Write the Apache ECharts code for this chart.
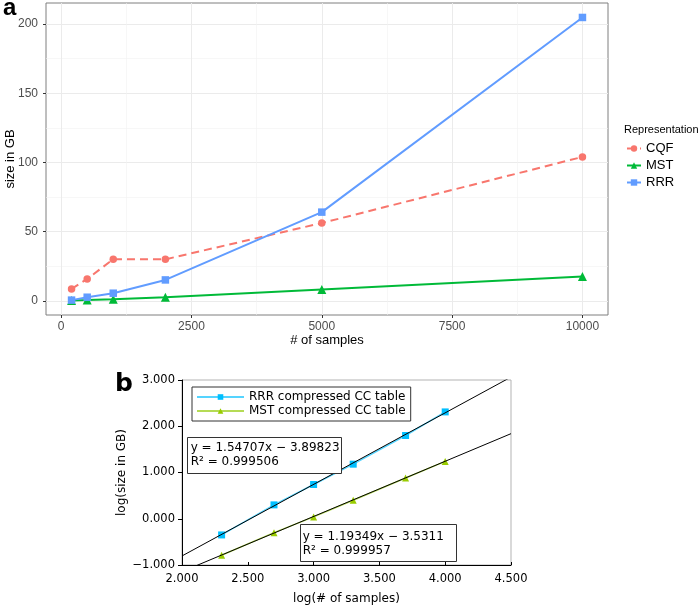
<!DOCTYPE html>
<html><head><meta charset="utf-8">
<script src="https://cdn.jsdelivr.net/npm/echarts@6/dist/echarts.min.js"></script>
<style>html,body{margin:0;padding:0;background:#fff}#c{width:700px;height:606px}</style>
</head><body><div id="c"></div>
<script>
// ---- panel a data ----
const samples = [200, 500, 1000, 2000, 5000, 10000];
const cqfGB = [8.6, 15.8, 30.1, 30.0, 56.2, 104.0];
const mstGB = [0.3, 0.6, 1.2, 2.6, 8.1, 17.5];
const rrrGB = [0.5, 2.6, 5.5, 15.1, 64.1, 204.8];
const topXTicks = [0, 2500, 5000, 7500, 10000];
const topXMinor = [1250, 3750, 6250, 8750];
const topYTicks = [0, 50, 100, 150, 200];
const topYMinor = [25, 75, 125, 175];
const topSeriesNames = ['CQF', 'MST', 'RRR'];

// ---- panel b data ----
const logSamples = [2.301, 2.699, 3.000, 3.301, 3.699, 4.000];
const rrrLog = [-0.35, 0.30, 0.74, 1.18, 1.80, 2.31];
const mstLog = [-0.79, -0.30, 0.04, 0.40, 0.88, 1.24];
const rrrFit = [1.54707, -3.89823];   // slope, intercept
const mstFit = [1.19349, -3.5311];
const rrrFitText = ['y = 1.54707x \u2212 3.89823', 'R\u00b2 = 0.999506'];
const mstFitText = ['y = 1.19349x \u2212 3.5311', 'R\u00b2 = 0.999957'];
const fitRangeX = [2.0, 4.5];
const botSeriesNames = ['RRR compressed CC table', 'MST compressed CC table'];

const pairs = (xs, ys) => xs.map((x, i) => [x, ys[i]]);
const fitLine = f => fitRangeX.map(x => [x, f[0] * x + f[1]]);
const fmt3 = v => v.toFixed(3).replace('-', '\u2212');
const plain = v => String(v);

const SANS = 'Liberation Sans';
const DV = 'DejaVu Sans';

const chart = echarts.init(document.getElementById('c'), null, {renderer: 'canvas'});

const topXBase = {
  type: 'value', gridIndex: 0, min: -290, max: 10490,
  axisLine: {show: false, onZero: false}, nameMoveOverlap: false
};
const topYBase = {
  type: 'value', gridIndex: 0, min: -10.25, max: 215.25,
  axisLine: {show: false, onZero: false}, nameMoveOverlap: false
};

chart.setOption({
  animation: false,
  backgroundColor: '#fff',
  title: {
    text: 'Representation', left: 624, top: 124, padding: 0,
    textStyle: {fontFamily: SANS, fontSize: 11, fontWeight: 'normal', color: '#000'}
  },
  legend: [
    {
      data: topSeriesNames, orient: 'vertical', left: 626, top: 142,
      itemWidth: 14, itemHeight: 8, itemGap: 4, padding: 0,
      textStyle: {fontFamily: SANS, fontSize: 13, color: '#000'}
    },
    {
      data: botSeriesNames, orient: 'vertical', left: 192, top: 387,
      borderColor: '#333', borderWidth: 1, padding: [4, 5, 4, 4],
      itemWidth: 47, itemHeight: 7, itemGap: 2,
      textStyle: {fontFamily: DV, fontSize: 12, color: '#000'}
    }
  ],
  grid: [
    {left: 46, top: 3, width: 562, height: 312, outerBoundsMode: 'none', containLabel: false,
      show: true, borderColor: '#7f7f7f', borderWidth: 1, backgroundColor: '#fff'},
    {left: 182, top: 380, width: 329, height: 185, outerBoundsMode: 'none', containLabel: false,
      show: true, borderColor: '#b3b3b3', borderWidth: 1, backgroundColor: '#fff'}
  ],
  xAxis: [
    Object.assign({}, topXBase, {
      axisTick: {show: true, customValues: topXTicks, length: 3, lineStyle: {color: '#333'}},
      axisLabel: {customValues: topXTicks, formatter: plain, color: '#4d4d4d', fontFamily: SANS, fontSize: 12, margin: 6},
      splitLine: {show: true, lineStyle: {color: '#ebebeb', width: 1}},
      name: '# of samples', nameLocation: 'middle', nameGap: 19,
      nameTextStyle: {fontFamily: SANS, fontSize: 13, color: '#000'}
    }),
    Object.assign({}, topXBase, {
      position: 'bottom',
      axisTick: {show: false, customValues: topXMinor},
      axisLabel: {show: false, customValues: topXMinor},
      splitLine: {show: true, lineStyle: {color: '#f2f2f2', width: 0.6}}
    }),
    {
      type: 'value', gridIndex: 1, min: 2, max: 4.5, interval: 0.5, nameMoveOverlap: false,
      axisLine: {show: true, onZero: false, lineStyle: {color: '#000', width: 1}},
      axisTick: {show: true, inside: true, length: 3, lineStyle: {color: '#000'}},
      axisLabel: {formatter: fmt3, color: '#000', fontFamily: DV, fontSize: 11.5, margin: 8},
      splitLine: {show: false},
      name: 'log(# of samples)', nameLocation: 'middle', nameGap: 28,
      nameTextStyle: {fontFamily: DV, fontSize: 12, color: '#000'}
    }
  ],
  yAxis: [
    Object.assign({}, topYBase, {
      axisTick: {show: true, customValues: topYTicks, length: 3, lineStyle: {color: '#333'}},
      axisLabel: {customValues: topYTicks, formatter: plain, color: '#4d4d4d', fontFamily: SANS, fontSize: 12, margin: 8},
      splitLine: {show: true, lineStyle: {color: '#ebebeb', width: 1}},
      name: 'size in GB', nameLocation: 'middle', nameGap: 29,
      nameTextStyle: {fontFamily: SANS, fontSize: 13, color: '#000'}
    }),
    Object.assign({}, topYBase, {
      position: 'left',
      axisTick: {show: false, customValues: topYMinor},
      axisLabel: {show: false, customValues: topYMinor},
      splitLine: {show: true, lineStyle: {color: '#f2f2f2', width: 0.6}}
    }),
    {
      type: 'value', gridIndex: 1, min: -1, max: 3, interval: 1, nameMoveOverlap: false,
      axisLine: {show: true, onZero: false, lineStyle: {color: '#000', width: 1}},
      axisTick: {show: true, length: 4, lineStyle: {color: '#000'}},
      axisLabel: {formatter: fmt3, color: '#000', fontFamily: DV, fontSize: 11.5, margin: 7},
      splitLine: {show: false},
      name: 'log(size in GB)', nameLocation: 'middle', nameGap: 54,
      nameTextStyle: {fontFamily: DV, fontSize: 12, color: '#000'}
    }
  ],
  series: [
    {
      name: 'CQF', type: 'line', xAxisIndex: 0, yAxisIndex: 0,
      data: pairs(samples, cqfGB), symbol: 'circle', symbolSize: 7.5,
      itemStyle: {color: '#F8766D'}, lineStyle: {color: '#F8766D', width: 2, type: [8, 5]}, z: 3
    },
    {
      name: 'MST', type: 'line', xAxisIndex: 0, yAxisIndex: 0,
      data: pairs(samples, mstGB), symbol: 'triangle', symbolSize: 9,
      itemStyle: {color: '#00BA38'}, lineStyle: {color: '#00BA38', width: 2}, z: 4
    },
    {
      name: 'RRR', type: 'line', xAxisIndex: 0, yAxisIndex: 0,
      data: pairs(samples, rrrGB), symbol: 'rect', symbolSize: 7.5,
      itemStyle: {color: '#619CFF'}, lineStyle: {color: '#619CFF', width: 2}, z: 5
    },
    {
      name: botSeriesNames[0], type: 'line', xAxisIndex: 2, yAxisIndex: 2,
      data: pairs(logSamples, rrrLog), symbol: 'rect', symbolSize: 7,
      itemStyle: {color: '#00bfff'}, lineStyle: {color: '#55d4ff', width: 1.5}, z: 3
    },
    {
      name: botSeriesNames[1], type: 'line', xAxisIndex: 2, yAxisIndex: 2,
      data: pairs(logSamples, mstLog), symbol: 'triangle', symbolSize: 7,
      itemStyle: {color: '#99cc00'}, lineStyle: {color: '#b5db55', width: 1.5}, z: 3
    },
    {
      name: 'RRR fit', type: 'line', xAxisIndex: 2, yAxisIndex: 2, silent: true,
      data: fitLine(rrrFit), symbol: 'none', clip: true,
      lineStyle: {color: '#000', width: 1}, z: 6
    },
    {
      name: 'MST fit', type: 'line', xAxisIndex: 2, yAxisIndex: 2, silent: true,
      data: fitLine(mstFit), symbol: 'none', clip: true,
      lineStyle: {color: '#000', width: 1}, z: 6
    }
  ],
  graphic: [
    {type: 'text', z: 20, style: {text: 'a', x: 3, y: 8, verticalAlign: 'middle',
      font: 'bold 24px "Liberation Sans"', fill: '#000'}},
    {type: 'text', z: 20, style: {text: 'b', x: 115, y: 384, verticalAlign: 'middle',
      font: 'bold 25px "DejaVu Sans"', fill: '#000'}},
    {type: 'rect', z: 20, shape: {x: 187.5, y: 437.5, width: 154, height: 36},
      style: {fill: '#fff', stroke: '#333', lineWidth: 1}},
    {type: 'text', z: 21, style: {text: rrrFitText.join('\n'), x: 190.7, y: 441, verticalAlign: 'top',
      lineHeight: 14, font: '12px "DejaVu Sans"', fill: '#000'}},
    {type: 'rect', z: 20, shape: {x: 300.5, y: 524.5, width: 156, height: 37},
      style: {fill: '#fff', stroke: '#333', lineWidth: 1}},
    {type: 'text', z: 21, style: {text: mstFitText.join('\n'), x: 302.7, y: 529.7, verticalAlign: 'top',
      lineHeight: 14, font: '12px "DejaVu Sans"', fill: '#000'}}
  ]
});
</script></body></html>
